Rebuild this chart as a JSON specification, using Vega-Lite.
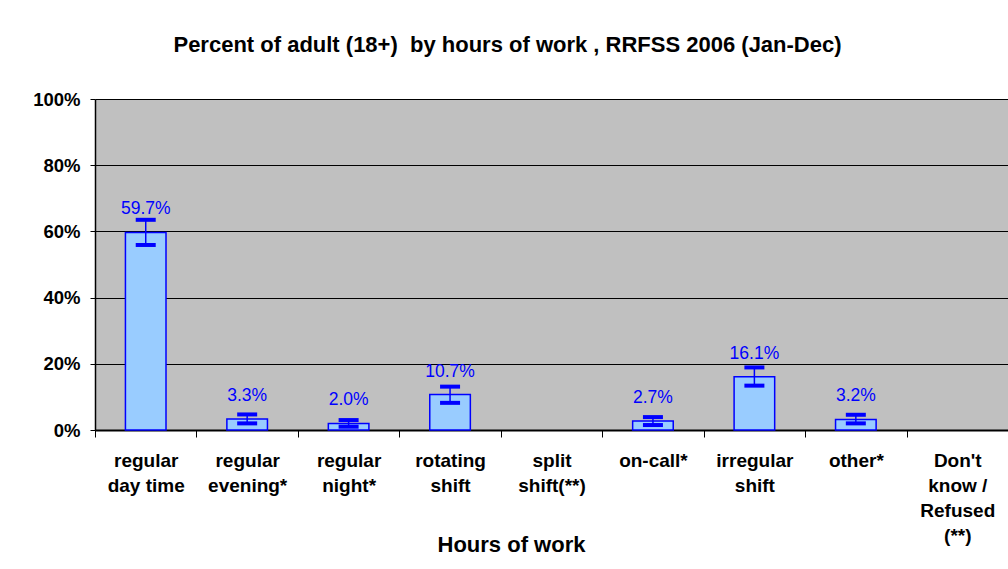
{
  "$schema": "https://vega.github.io/schema/vega-lite/v6.json",
  "autosize": "none",
  "width": 913,
  "height": 331,
  "padding": {"left": 95, "top": 99, "right": 0, "bottom": 139},
  "background": "white",
  "title": {
    "text": "Percent of adult (18+)\u00a0 by hours of work , RRFSS 2006 (Jan-Dec)",
    "fontSize": 22,
    "fontWeight": "bold",
    "color": "black",
    "font": "Liberation Sans",
    "anchor": "middle",
    "dx": -44,
    "offset": 33
  },
  "data": {
    "values": [
      {"cat": "regular|day time", "v": 0.597, "lo": 0.559, "hi": 0.635},
      {"cat": "regular|evening*", "v": 0.033, "lo": 0.020, "hi": 0.047},
      {"cat": "regular|night*", "v": 0.020, "lo": 0.010, "hi": 0.030},
      {"cat": "rotating|shift", "v": 0.107, "lo": 0.082, "hi": 0.131},
      {"cat": "split|shift(**)", "v": null, "lo": null, "hi": null},
      {"cat": "on-call*", "v": 0.027, "lo": 0.015, "hi": 0.039},
      {"cat": "irregular|shift", "v": 0.161, "lo": 0.134, "hi": 0.189},
      {"cat": "other*", "v": 0.032, "lo": 0.020, "hi": 0.046},
      {"cat": "Don't|know /|Refused|(**)", "v": null, "lo": null, "hi": null}
    ]
  },
  "encoding": {
    "x": {
      "field": "cat",
      "type": "nominal",
      "sort": null,
      "scale": {
        "type": "band",
        "domain": ["regular|day time", "regular|evening*", "regular|night*", "rotating|shift", "split|shift(**)", "on-call*", "irregular|shift", "other*", "Don't|know /|Refused|(**)"],
        "paddingInner": 0,
        "paddingOuter": 0
      },
      "axis": {
        "title": "Hours of work",
        "titleFontSize": 22,
        "titleFontWeight": "bold",
        "titleColor": "black",
        "titleFont": "Liberation Sans",
        "titleX": 416,
        "titleY": 114,
        "titleBaseline": "middle",
        "titleAlign": "center",
        "labelAngle": 0,
        "labelFont": "Liberation Sans",
        "labelFontSize": 19,
        "labelFontWeight": "bold",
        "labelColor": "black",
        "labelExpr": "split(datum.label, '|')",
        "labelLineHeight": 25,
        "labelBaseline": "top",
        "labelPadding": 14,
        "labelOverlap": false,
        "labelFlush": false,
        "labelLimit": 200,
        "tickBand": "extent",
        "tickSize": 7,
        "tickColor": "black",
        "tickWidth": 1,
        "domainColor": "black",
        "domainWidth": 2,
        "grid": false
      }
    }
  },
  "layer": [
    {
      "mark": {"type": "bar", "width": {"band": 0.4}, "fill": "#99CCFF", "stroke": "#0000FF", "strokeWidth": 1.5},
      "encoding": {
        "y": {
          "field": "v",
          "type": "quantitative",
          "scale": {"domain": [0, 1], "nice": false},
          "axis": {
            "title": null,
            "format": ".0%",
            "values": [0, 0.2, 0.4, 0.6, 0.8, 1],
            "labelFont": "Liberation Sans",
            "labelFontSize": 18.5,
            "labelFontWeight": "bold",
            "labelColor": "black",
            "labelPadding": 10,
            "tickSize": 5,
            "tickColor": "black",
            "domainColor": "black",
            "domainWidth": 1.5,
            "grid": true,
            "gridColor": "black",
            "gridWidth": 1,
            "gridOpacity": 1
          }
        }
      }
    },
    {
      "mark": {"type": "rule", "color": "#0000FF", "strokeWidth": 1.5},
      "encoding": {
        "y": {"field": "lo", "type": "quantitative"},
        "y2": {"field": "hi"}
      }
    },
    {
      "mark": {"type": "tick", "color": "#0000FF", "size": 20, "thickness": 4, "orient": "horizontal", "opacity": 1},
      "encoding": {"y": {"field": "lo", "type": "quantitative"}}
    },
    {
      "mark": {"type": "tick", "color": "#0000FF", "size": 20, "thickness": 4, "orient": "horizontal", "opacity": 1},
      "encoding": {"y": {"field": "hi", "type": "quantitative"}}
    },
    {
      "mark": {"type": "text", "color": "#0000FF", "fontSize": 17.5, "font": "Liberation Sans", "baseline": "middle", "dy": -23},
      "encoding": {
        "y": {"field": "v", "type": "quantitative"},
        "text": {"field": "v", "type": "quantitative", "format": ".1%"}
      }
    }
  ],
  "config": {
    "view": {"fill": "#C0C0C0", "stroke": null}
  }
}
